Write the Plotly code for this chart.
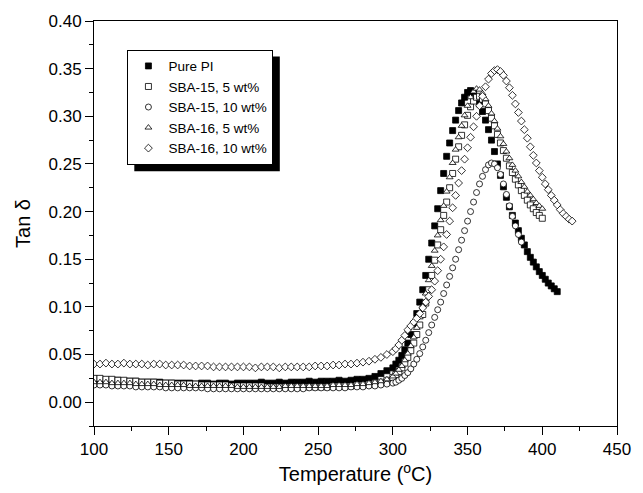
import plotly.graph_objects as go

# Shared temperatures for the flat low-temperature region (deg C)
T_FLAT = [100, 104, 108, 112, 116, 120, 124, 128, 132, 136, 140, 144, 148, 152, 156, 160, 164, 168, 172, 176,
          180, 184, 188, 192, 196, 200, 204, 208, 212, 216, 220, 224, 228, 232, 236, 240, 244, 248, 252, 256,
          260, 264, 268, 272, 276, 280, 284, 288, 292, 296]

# Pure PI
PI_T_HI = [300, 302, 304, 306, 308, 310, 312, 314, 316, 318, 320, 322, 324, 326, 328, 330, 332, 334, 336, 338,
           340, 342, 344, 346, 348, 350, 352, 354, 356, 358, 360, 362, 364, 366, 368, 370, 372, 374, 376, 378,
           380, 382, 384, 386, 388, 390, 392, 394, 396, 398, 400, 402, 404, 406, 408, 410]
PI_FLAT = [0.024, 0.024, 0.023, 0.023, 0.023, 0.022, 0.022, 0.022, 0.021, 0.021, 0.021, 0.021, 0.020, 0.020, 0.020,
           0.020, 0.020, 0.019, 0.020, 0.020, 0.019, 0.020, 0.020, 0.019, 0.020, 0.020, 0.020, 0.020, 0.021, 0.020,
           0.020, 0.021, 0.020, 0.021, 0.021, 0.021, 0.022, 0.021, 0.022, 0.022, 0.022, 0.023, 0.022, 0.023, 0.024,
           0.024, 0.025, 0.027, 0.030, 0.033]
PI_HI = [0.036, 0.040, 0.044, 0.049, 0.055, 0.062, 0.071, 0.082, 0.093, 0.105, 0.118, 0.133, 0.150, 0.167, 0.185,
         0.203, 0.222, 0.240, 0.258, 0.272, 0.285, 0.296, 0.306, 0.314, 0.320, 0.325, 0.327, 0.325, 0.320, 0.313,
         0.305, 0.296, 0.286, 0.275, 0.263, 0.250, 0.238, 0.226, 0.215, 0.205, 0.196, 0.188, 0.180, 0.172, 0.165,
         0.158, 0.152, 0.147, 0.142, 0.137, 0.133, 0.129, 0.125, 0.122, 0.119, 0.116]

# SBA-15, 5 wt%
S15_5_T_HI = [300, 302, 304, 306, 308, 310, 312, 314, 316, 318, 320, 322, 324, 326, 328, 330, 332, 334, 336, 338,
              340, 342, 344, 346, 348, 350, 352, 354, 356, 358, 360, 362, 364, 366, 368, 370, 372, 374, 376, 378,
              380, 382, 384, 386, 388, 390, 392, 394, 396, 398, 400]
S15_5_FLAT = [0.025, 0.025, 0.024, 0.024, 0.023, 0.023, 0.022, 0.022, 0.021, 0.021, 0.021, 0.020, 0.020, 0.020,
              0.019, 0.019, 0.019, 0.019, 0.018, 0.018, 0.018, 0.018, 0.018, 0.017, 0.017, 0.017, 0.017, 0.017,
              0.017, 0.016, 0.016, 0.016, 0.016, 0.016, 0.016, 0.016, 0.016, 0.016, 0.016, 0.016, 0.017, 0.017,
              0.017, 0.017, 0.018, 0.018, 0.019, 0.020, 0.021, 0.023]
S15_5_HI = [0.026, 0.029, 0.032, 0.036, 0.041, 0.047, 0.054, 0.062, 0.071, 0.081, 0.092, 0.104, 0.118, 0.133,
            0.149, 0.165, 0.181, 0.196, 0.210, 0.225, 0.240, 0.255, 0.268, 0.280, 0.291, 0.301, 0.310, 0.316,
            0.320, 0.321, 0.318, 0.313, 0.306, 0.298, 0.290, 0.281, 0.272, 0.264, 0.256, 0.248, 0.241, 0.234,
            0.228, 0.222, 0.217, 0.212, 0.207, 0.203, 0.199, 0.196, 0.193]

# SBA-15, 10 wt%
S15_10_T_HI = [300, 302, 304, 306, 308, 310, 312, 314, 316, 318, 320, 322, 324, 326, 328, 330, 332, 334, 336, 338,
               340, 342, 344, 346, 348, 350, 352, 354, 356, 358, 360, 362, 364, 366, 368, 370, 372, 374, 376, 378,
               380, 382, 384, 386]
S15_10_FLAT = [0.018, 0.018, 0.018, 0.017, 0.017, 0.017, 0.017, 0.016, 0.016, 0.016, 0.016, 0.016, 0.015, 0.015,
               0.015, 0.015, 0.015, 0.015, 0.015, 0.014, 0.014, 0.014, 0.014, 0.014, 0.014, 0.014, 0.014, 0.014,
               0.014, 0.014, 0.014, 0.014, 0.014, 0.014, 0.014, 0.014, 0.015, 0.015, 0.015, 0.015, 0.015, 0.015,
               0.015, 0.016, 0.016, 0.016, 0.017, 0.017, 0.018, 0.019]
S15_10_HI = [0.020, 0.021, 0.023, 0.025, 0.028, 0.031, 0.035, 0.040, 0.045, 0.051, 0.058, 0.065, 0.073, 0.081,
             0.089, 0.097, 0.105, 0.114, 0.123, 0.132, 0.141, 0.150, 0.160, 0.170, 0.180, 0.190, 0.200, 0.210,
             0.220, 0.229, 0.237, 0.244, 0.249, 0.251, 0.250, 0.246, 0.239, 0.229, 0.218, 0.206, 0.195, 0.185,
             0.176, 0.168]

# SBA-16, 5 wt%
S16_5_T_HI = S15_5_T_HI
S16_5_FLAT = [0.021, 0.021, 0.021, 0.020, 0.020, 0.020, 0.020, 0.019, 0.019, 0.019, 0.019, 0.018, 0.018, 0.018,
              0.018, 0.018, 0.017, 0.017, 0.017, 0.017, 0.017, 0.017, 0.017, 0.017, 0.016, 0.016, 0.016, 0.016,
              0.016, 0.016, 0.016, 0.016, 0.017, 0.017, 0.017, 0.017, 0.017, 0.017, 0.017, 0.017, 0.018, 0.018,
              0.018, 0.018, 0.019, 0.019, 0.020, 0.021, 0.022, 0.024]
S16_5_HI = [0.027, 0.030, 0.034, 0.038, 0.044, 0.051, 0.059, 0.068, 0.078, 0.089, 0.101, 0.114, 0.128, 0.143,
            0.159, 0.175, 0.191, 0.206, 0.221, 0.236, 0.251, 0.265, 0.278, 0.290, 0.301, 0.311, 0.320, 0.326,
            0.329, 0.328, 0.324, 0.318, 0.311, 0.303, 0.295, 0.287, 0.279, 0.271, 0.263, 0.256, 0.249, 0.243,
            0.237, 0.231, 0.226, 0.221, 0.217, 0.213, 0.209, 0.206, 0.203]

# SBA-16, 10 wt%
S16_10_T_HI = [300, 302, 304, 306, 308, 310, 312, 314, 316, 318, 320, 322, 324, 326, 328, 330, 332, 334, 336, 338,
               340, 342, 344, 346, 348, 350, 352, 354, 356, 358, 360, 362, 364, 366, 368, 370, 372, 374, 376, 378,
               380, 382, 384, 386, 388, 390, 392, 394, 396, 398, 400, 402, 404, 406, 408, 410, 412, 414, 416, 418,
               420]
S16_10_FLAT = [0.040, 0.040, 0.041, 0.040, 0.040, 0.041, 0.040, 0.040, 0.040, 0.039, 0.040, 0.040, 0.039, 0.039,
               0.039, 0.039, 0.038, 0.038, 0.038, 0.038, 0.037, 0.037, 0.037, 0.037, 0.037, 0.037, 0.037, 0.036,
               0.037, 0.037, 0.037, 0.036, 0.037, 0.037, 0.037, 0.037, 0.037, 0.038, 0.038, 0.038, 0.039, 0.039,
               0.040, 0.040, 0.041, 0.042, 0.043, 0.045, 0.047, 0.050]
S16_10_HI = [0.053, 0.056, 0.060, 0.065, 0.070, 0.076, 0.080, 0.084, 0.088, 0.093, 0.099, 0.105, 0.111, 0.118,
             0.127, 0.138, 0.150, 0.163, 0.176, 0.190, 0.204, 0.217, 0.230, 0.243, 0.255, 0.267, 0.278, 0.289,
             0.300, 0.311, 0.321, 0.331, 0.339, 0.345, 0.348, 0.349, 0.347, 0.343, 0.337, 0.330, 0.322, 0.313,
             0.304, 0.295, 0.286, 0.277, 0.268, 0.259, 0.251, 0.243, 0.236, 0.229, 0.223, 0.217, 0.212, 0.207,
             0.202, 0.198, 0.195, 0.192, 0.190]

NAMES = ["Pure PI", "SBA-15, 5 wt%", "SBA-15, 10 wt%", "SBA-16, 5 wt%", "SBA-16, 10 wt%"]

series = [
    (NAMES[0], T_FLAT + PI_T_HI, PI_FLAT + PI_HI, "square", "black"),
    (NAMES[1], T_FLAT + S15_5_T_HI, S15_5_FLAT + S15_5_HI, "square", "white"),
    (NAMES[2], T_FLAT + S15_10_T_HI, S15_10_FLAT + S15_10_HI, "circle", "white"),
    (NAMES[3], T_FLAT + S16_5_T_HI, S16_5_FLAT + S16_5_HI, "triangle-up", "white"),
    (NAMES[4], T_FLAT + S16_10_T_HI, S16_10_FLAT + S16_10_HI, "diamond", "white"),
]

fig = go.Figure()
for i, (name, xs, ys, sym, fill) in enumerate(series):
    fig.add_trace(go.Scatter(
        x=xs, y=ys, mode="markers", name=name, legendgroup=f"g{i}",
        marker=dict(symbol=sym, size=6, color=fill,
                    line=dict(color="black", width=0.8)),
    ))

L, R, T, B = 94, 17, 18, 65
W, H = 643, 493
pw, ph = W - L - R, H - T - B


def px_x(p):
    return (p - L) / pw


def px_y(p):
    return (H - B - p) / ph


# legend drop shadow
fig.add_shape(type="rect", xref="paper", yref="paper",
              x0=px_x(135), x1=px_x(283), y0=px_y(170), y1=px_y(54),
              fillcolor="black", line=dict(width=0), layer="above")

FONT = "Liberation Sans, Arial"
axis_common = dict(
    showline=True, linecolor="black", linewidth=1, mirror=True,
    ticks="outside", ticklen=8, tickwidth=1, tickcolor="black",
    showgrid=False, zeroline=False,
    tickfont=dict(family=FONT, size=17, color="black"),
)

fig.update_layout(
    width=W, height=H,
    margin=dict(l=L, r=R, t=T, b=B),
    paper_bgcolor="white", plot_bgcolor="white",
    font=dict(family=FONT, color="black"),
    showlegend=True,
    legend=dict(x=px_x(128), y=px_y(47), xanchor="left", yanchor="top",
                bgcolor="white", bordercolor="black", borderwidth=1,
                font=dict(family=FONT, size=13.5, color="black"),
                itemsizing="trace", tracegroupgap=0, itemwidth=30),
    xaxis=dict(range=[100, 450], dtick=50, tick0=100,
               minor=dict(dtick=25, ticklen=4, ticks="outside", tickcolor="black"),
               title=dict(text="Temperature (<sup>o</sup>C)", font=dict(size=20), standoff=8),
               **axis_common),
    yaxis=dict(range=[-0.025, 0.40], dtick=0.05, tick0=0, tickformat=".2f",
               minor=dict(dtick=0.025, ticklen=4, ticks="outside", tickcolor="black"),
               title=dict(text="Tan δ", font=dict(size=20), standoff=12),
               **axis_common),
)

fig.write_html("out.html")
